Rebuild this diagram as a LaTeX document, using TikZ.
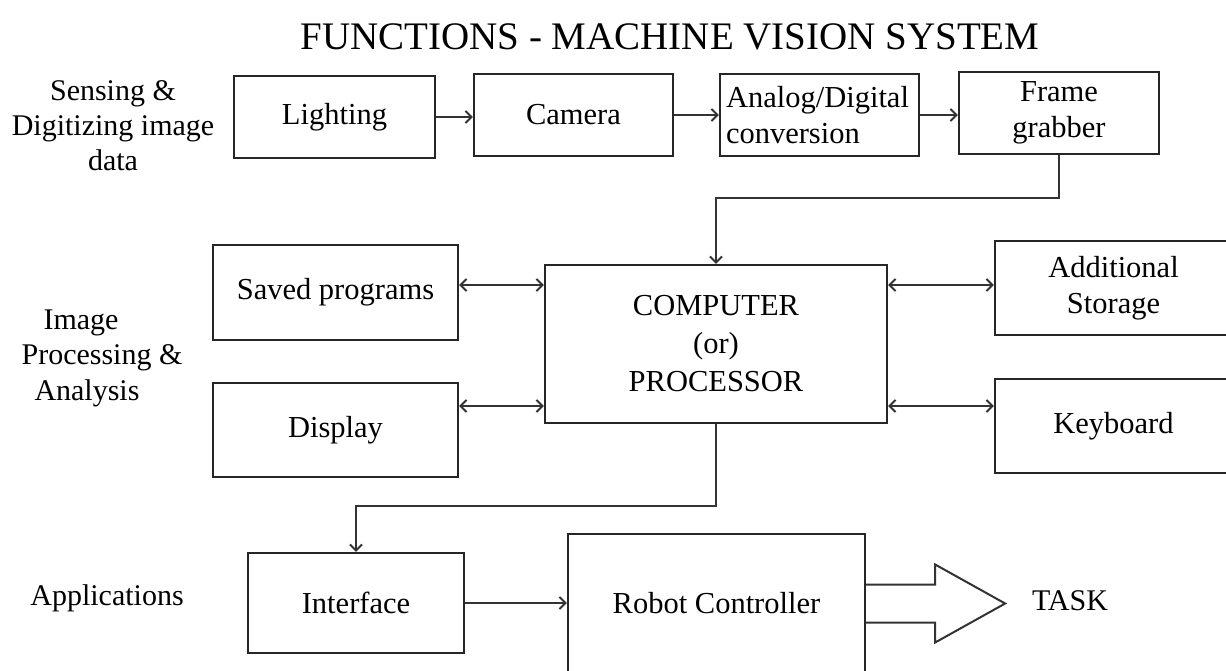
\documentclass[tikz,border=0pt]{standalone}
\usepackage{fontspec}
\setmainfont{Liberation Serif}
\usetikzlibrary{arrows.meta,calc}
\begin{document}
\begin{tikzpicture}[x=1pt,y={(0pt,-1pt)},
  box/.style={draw=black!85, line width=2.3pt, inner sep=0pt, align=center, font=\fontsize{30.5}{36}\selectfont},
  lbl/.style={inner sep=0pt, align=center, font=\fontsize{30}{35}\selectfont},
  tip/.tip={Straight Barb[length=6pt,width=12pt]},
  arr/.style={draw=black!80, line width=2pt, -tip},
  biarr/.style={draw=black!80, line width=2pt, tip-tip}]
\clip (0,0) rectangle (1226,671);
\fill[white] (0,0) rectangle (1226,671);

% labels
\node[lbl, font=\fontsize{39}{44}\selectfont] (title) at (670,37) {FUNCTIONS - MACHINE VISION SYSTEM};
\node[lbl] (lab1) at (113,126) {Sensing \&\\Digitizing image\\data};
\node[lbl] (lab2a) at (81,323) {Image};
\node[lbl] (lab2b) at (102,358) {Processing \&};
\node[lbl] (lab2c) at (87,393) {Analysis};
\node[lbl] (lab3) at (107,598) {Applications};

% top row
\node[box, minimum width=201, minimum height=82] (light) at (334.5,117) {Lighting};
\node[box, minimum width=199, minimum height=82] (cam) at (573.5,115) {Camera};
\node[box, minimum height=82, text width=187, inner xsep=6, align=left] (adc) at (819.5,115) {Analog/Digital\\conversion};
\node[box, minimum width=200, minimum height=82] (frame) at (1059,113) {Frame\\grabber};

% middle
\node[box, minimum width=245, minimum height=95] (saved) at (335.5,292.5) {Saved programs};
\node[box, minimum width=245, minimum height=94] (display) at (335.5,430) {Display};
\node[box, minimum width=342, minimum height=158, font=\fontsize{30.5}{38}\selectfont] (comp) at (716,344) {COMPUTER\\(or)\\PROCESSOR};
\node[box, minimum width=237, minimum height=94] (storage) at (1113.5,288) {Additional\\Storage};
\node[box, minimum width=237, minimum height=94] (keyboard) at (1113.5,426) {Keyboard};

% bottom
\node[box, minimum width=216, minimum height=100] (iface) at (356,603) {Interface};
\node[box, minimum width=297, minimum height=139] (robot) at (716.5,603.5) {Robot Controller};
\node[lbl] (task) at (1070,601) {TASK};

% connectors
\draw[arr] (light.east) -- (light.east -| cam.west);
\draw[arr] (cam.east) -- (cam.east -| adc.west);
\draw[arr] (adc.east) -- (adc.east -| frame.west);
\draw[arr] (frame.south) -- ++(0,43) -| (comp.north);
\coordinate (r1) at (0,285);
\coordinate (r2) at (0,406);
\draw[biarr] (saved.east |- r1) -- (comp.west |- r1);
\draw[biarr] (display.east |- r2) -- (comp.west |- r2);
\draw[biarr] (comp.east |- r1) -- (storage.west |- r1);
\draw[biarr] (comp.east |- r2) -- (keyboard.west |- r2);
\draw[arr] (comp.south) -- ++(0,82) -| (iface.north);
\draw[arr] (iface.east) -- (iface.east -| robot.west);

% big hollow arrow to TASK
\draw[line width=2pt, draw=black!80, line join=miter]
  ($(robot.east)+(0,-19)$) -- ++(69,0) -- ++(0,-20) -- ($(robot.east)+(139,0)$)
  -- ($(robot.east)+(69,39)$) -- ++(0,-20) -- ($(robot.east)+(0,19)$);
\end{tikzpicture}
\end{document}
